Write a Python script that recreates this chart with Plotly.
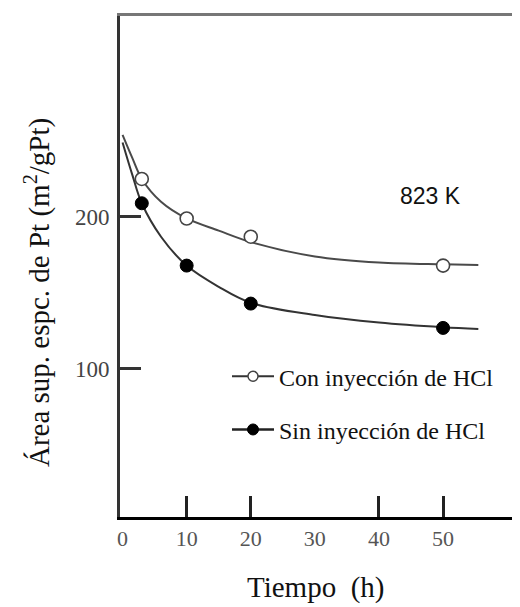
import plotly.graph_objects as go

# Measured points
t_points = [3, 10, 20, 50]
con_points = [225, 199, 187, 168]
sin_points = [209, 168, 143, 127]

# Fitted curves
t_curve = [0, 1.5, 3, 6, 10, 15, 20, 30, 40, 50, 55.5]
con_curve = [254, 239, 225, 210, 199, 191, 183.5, 174, 170, 168.8, 168.4]
sin_curve = [249, 228, 209, 187, 168, 154, 143.5, 135.5, 130.5, 127.4, 126.3]

x_ticks = [0, 10, 20, 30, 40, 50]
x_marks = [10, 20, 40, 50]
y_ticks = [100, 200]

names = ["Con inyección de HCl", "Sin inyección de HCl"]

SERIF = "Liberation Serif, Times New Roman, serif"

fig = go.Figure()

# curves
fig.add_trace(go.Scatter(x=t_curve, y=con_curve, mode="lines", line=dict(color="#4a4a4a", width=2, shape="spline", smoothing=1.0),
                         showlegend=False, hoverinfo="skip"))
fig.add_trace(go.Scatter(x=t_curve, y=sin_curve, mode="lines", line=dict(color="#333333", width=2, shape="spline", smoothing=1.0),
                         showlegend=False, hoverinfo="skip"))
# points
fig.add_trace(go.Scatter(x=t_points, y=con_points, mode="markers",
                         marker=dict(symbol="circle", size=13, color="white", line=dict(color="#444", width=1.6)),
                         showlegend=False))
fig.add_trace(go.Scatter(x=t_points, y=sin_points, mode="markers",
                         marker=dict(symbol="circle", size=13, color="black", line=dict(color="black", width=1)),
                         showlegend=False))
# legend entries
fig.add_trace(go.Scatter(x=[None], y=[None], mode="lines+markers", name=names[0], legendgroup="a",
                         line=dict(color="#333", width=2),
                         marker=dict(symbol="circle", size=10, color="white", line=dict(color="#444", width=1.5))))
fig.add_trace(go.Scatter(x=[None], y=[None], mode="lines+markers", name=names[1], legendgroup="b",
                         line=dict(color="#222", width=2.5),
                         marker=dict(symbol="circle", size=11, color="black", line=dict(color="black", width=1))))
# helper traces for overlay axes (tick marks / top line)
fig.add_trace(go.Scatter(x=[None], y=[None], xaxis="x2", showlegend=False, hoverinfo="skip"))
fig.add_trace(go.Scatter(x=[None], y=[None], xaxis="x3", showlegend=False, hoverinfo="skip"))

xr = [-0.4, 62.0]
yr = [2.6, 332.2]
fig.update_layout(
    width=512, height=599,
    margin=dict(l=112, r=0, t=8, b=90, autoexpand=False),
    paper_bgcolor="white", plot_bgcolor="white",
    font=dict(family=SERIF, color="#222"),
    xaxis=dict(range=xr, showline=True, linecolor="black", linewidth=3, ticks="", automargin=False,
               tickvals=x_ticks, ticktext=[str(v) for v in x_ticks],
               tickfont=dict(family=SERIF, size=22, color="#555"), ticklabelstandoff=0,
               showgrid=False, zeroline=False),
    xaxis2=dict(range=xr, overlaying="x", side="bottom", showline=False, ticks="inside", ticklen=21,
                tickwidth=2.5, tickcolor="#222", tickvals=x_marks, showticklabels=False,
                showgrid=False, zeroline=False, automargin=False),
    xaxis3=dict(range=xr, overlaying="x", side="top", showline=True, linecolor="#777", linewidth=3,
                ticks="", showticklabels=False, showgrid=False, zeroline=False, automargin=False),
    yaxis=dict(range=yr, showline=True, linecolor="#333", linewidth=3, automargin=False,
               ticks="inside", ticklen=21, tickwidth=2.5, tickcolor="#333",
               tickvals=y_ticks, tickfont=dict(family=SERIF, size=23, color="#444"), ticklabelstandoff=3,
               showgrid=False, zeroline=False),
    legend=dict(x=0.2675, y=0.325, xanchor="left", yanchor="top", bgcolor="rgba(0,0,0,0)",
                font=dict(family=SERIF, size=24, color="#111"), traceorder="grouped", tracegroupgap=19,
                itemwidth=42),
    annotations=[
        dict(x=48, y=214, xref="x", yref="y", text="823 K", showarrow=False,
             font=dict(family="Liberation Sans, Arial, sans-serif", size=23, color="#111")),
        dict(x=0.49, y=-0.1417, xref="paper", yref="paper", xanchor="center", yanchor="middle",
             text="Tiempo&nbsp;&nbsp;(h)", showarrow=False,
             font=dict(family=SERIF, size=29, color="#111")),
        dict(x=-0.2075, y=0.447, xref="paper", yref="paper", xanchor="center", yanchor="middle",
             text="Área sup. espc. de Pt (m<sup>2</sup>/gPt)", textangle=-90, showarrow=False,
             font=dict(family=SERIF, size=29, color="#111")),
    ],
)

fig.write_html("out.html")
